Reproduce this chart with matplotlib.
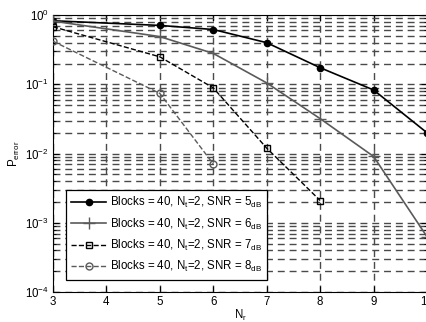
import numpy as np
import matplotlib
matplotlib.use('Agg')
import matplotlib.pyplot as plt

plt.rcParams['font.family'] = ['Liberation Sans', 'DejaVu Sans']
plt.rcParams['mathtext.fontset'] = 'custom'
plt.rcParams['mathtext.rm'] = 'Liberation Sans'
plt.rcParams['mathtext.it'] = 'Liberation Sans'

# receive antennas
nr = [3, 5, 6, 7, 8, 9, 10]
nr_snr7 = [3, 5, 6, 7, 8]
nr_snr8 = [3, 5, 6]

# error probability per SNR
p_snr5 = [0.83, 0.71, 0.62, 0.40, 0.174, 0.083, 0.020]
p_snr6 = [0.82, 0.49, 0.28, 0.105, 0.032, 0.0091, 0.00063]
p_snr7 = [0.68, 0.25, 0.089, 0.0120, 0.0021]
p_snr8 = [0.42, 0.074, 0.0071]

labels = [r'Blocks = 40, N$_t$=2, SNR = 5$_{dB}$',
          r'Blocks = 40, N$_t$=2, SNR = 6$_{dB}$',
          r'Blocks = 40, N$_t$=2, SNR = 7$_{dB}$',
          r'Blocks = 40, N$_t$=2, SNR = 8$_{dB}$']

fig = plt.figure(figsize=(4.27, 3.22), dpi=100)
ax = fig.add_axes([0.124, 0.093, 0.876, 0.860])

gray = '#5a5a5a'
ax.semilogy(nr, p_snr5, '-', color='black', lw=1.2, marker='o', ms=4.5,
            mfc='black', label=labels[0], zorder=3)
ax.semilogy(nr, p_snr6, '-', color=gray, lw=1.2, marker='+', ms=8,
            mew=1.0, label=labels[1], zorder=3)
ax.semilogy(nr_snr7, p_snr7, '--', color='black', lw=1.0, marker='s', ms=5,
            mfc='none', label=labels[2], zorder=3)
ax.semilogy(nr_snr8, p_snr8, '--', color=gray, lw=1.0, marker='o', ms=5,
            mfc='none', label=labels[3], zorder=3)

ax.set_xlim(3, 10)
ax.set_ylim(1e-4, 1)
ax.set_xticks(range(3, 11))
ax.set_yticks([1e-4, 1e-3, 1e-2, 1e-1, 1])

# dashed grid on every x tick and on major + minor y ticks
grid_style = dict(ls=(0, (5, 3.5)), color='#4a4a4a', lw=1.0)
ax.xaxis.grid(True, which='major', **grid_style)
ax.yaxis.grid(True, which='both', **grid_style)
ax.set_axisbelow(True)

ax.tick_params(which='both', direction='in', top=True, right=True,
               labelsize=8.3, pad=3)
ax.tick_params(which='major', length=4)
ax.tick_params(which='minor', length=2.5)

ax.set_xlabel(r'N$_r$', fontsize=8.3, labelpad=0)
ax.set_ylabel(r'P$_{error}$', fontsize=8.3, labelpad=2)

leg = ax.legend(loc='lower left', bbox_to_anchor=(0.035, 0.045),
                fontsize=8.3, fancybox=False, framealpha=1,
                edgecolor='black', handlelength=3.0, handletextpad=0.35,
                borderpad=0.45, borderaxespad=0, labelspacing=0.55)
leg.get_frame().set_linewidth(0.9)

fig.savefig('out.png', dpi=100)
